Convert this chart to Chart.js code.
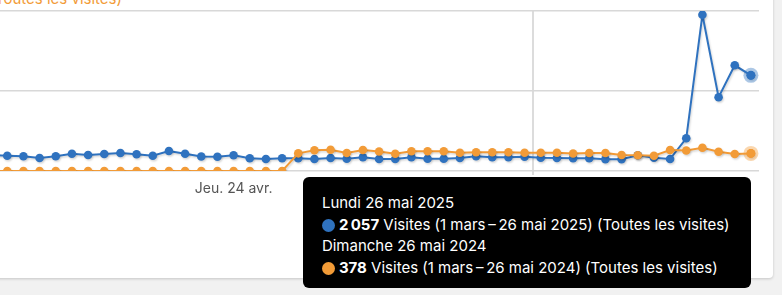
<!DOCTYPE html>
<html lang="fr">
<head>
<meta charset="utf-8">
<script src="https://cdn.jsdelivr.net/npm/chart.js@4.4.1/dist/chart.umd.min.js"></script>
<style>
  html, body { margin:0; padding:0; width:782px; height:295px; overflow:hidden; background:#f1f1f1; font-family: Inter, "Noto Sans", sans-serif; }
  #card { position:absolute; left:-20px; top:-20px; width:793px; height:298px; background:#fff; border-radius:4px; box-shadow:0 1px 3px rgba(0,0,0,.18); }
  #legend { position:absolute; right:660px; top:-10px; white-space:nowrap; font-size:15px; line-height:18px; color:#f29b37; }
  #wrap { position:absolute; left:-17px; top:0; width:776px; height:231px; }
  #tip { position:absolute; background:#000; color:#fff; border-radius:6px; font-size:15px; line-height:21.5px;
         padding:15px 21px 10px 19px; white-space:nowrap; opacity:0; pointer-events:none; }
  #tip .dot { display:inline-block; width:13px; height:13px; border-radius:50%; vertical-align:-2px; margin-right:4px; }
  #tip b { font-weight:700; }
</style>
</head>
<body>
<div id="card"></div>
<div id="legend">Visites (1 mars&#8201;–&#8201;26 mai 2024) (Toutes les visites)</div>
<div id="wrap"><canvas id="c"></canvas></div>
<div id="tip"></div>
<script>
// ---- data ----
const categories = [
  '2025-04-09','2025-04-10','2025-04-11','2025-04-12','2025-04-13','2025-04-14','2025-04-15','2025-04-16',
  '2025-04-17','2025-04-18','2025-04-19','2025-04-20','2025-04-21','2025-04-22','2025-04-23','2025-04-24',
  '2025-04-25','2025-04-26','2025-04-27','2025-04-28','2025-04-29','2025-04-30','2025-05-01','2025-05-02',
  '2025-05-03','2025-05-04','2025-05-05','2025-05-06','2025-05-07','2025-05-08','2025-05-09','2025-05-10',
  '2025-05-11','2025-05-12','2025-05-13','2025-05-14','2025-05-15','2025-05-16','2025-05-17','2025-05-18',
  '2025-05-19','2025-05-20','2025-05-21','2025-05-22','2025-05-23','2025-05-24','2025-05-25','2025-05-26'
];
const visits2025 = [
  344, 329, 316, 280, 316, 372, 344, 366, 387, 359, 329, 430, 372, 312, 307, 338,
  273, 258, 273, 273, 258, 280, 264, 295, 258, 258, 295, 264, 264, 280, 316, 295,
  295, 307, 286, 280, 273, 273, 252, 252, 338, 286, 258, 703, 3360, 1585, 2273, 2057
];
const visits2024 = [
  0, 0, 0, 0, 0, 0, 0, 0, 0, 0, 0, 0, 0, 0, 0, 0,
  0, 0, 0, 380, 445, 458, 387, 452, 419, 370, 424, 426, 426, 393, 404, 402,
  402, 393, 391, 393, 376, 387, 387, 344, 338, 329, 452, 441, 501, 415, 366, 378
];
const seriesNames = [
  'Visites (1 mars\u2009–\u200926 mai 2025) (Toutes les visites)',
  'Visites (1 mars\u2009–\u200926 mai 2024) (Toutes les visites)'
];
const seriesYears = ['2025', '2024'];
const tickDates = ['2025-04-24'];
const tickLabels = ['Jeu. 24 avr.'];
const markerDates = ['2025-05-13'];
const yTicks = [0, 1720, 3440];

const BLUE = '#2f72bf', ORANGE = '#f29b37';
const dayNames = ['Dimanche','Lundi','Mardi','Mercredi','Jeudi','Vendredi','Samedi'];
const monthNames = ['janvier','février','mars','avril','mai','juin','juillet','août','septembre','octobre','novembre','décembre'];

function fullDate(iso, year) {
  const [y, m, d] = iso.split('-').map(Number);
  const yy = Number(year || y);
  const dt = new Date(yy, m - 1, d);
  return dayNames[dt.getDay()] + ' ' + d + ' ' + monthNames[m - 1] + ' ' + yy;
}
function fmt(n) { return String(n).replace(/\B(?=(\d{3})+(?!\d))/g, '\u202F'); }

const markerIdx = markerDates.map(d => categories.indexOf(d));

const fxPlugin = {
  id: 'fx',
  beforeDatasetDraw(chart) {
    const ctx = chart.ctx;
    ctx.save();
    ctx.shadowColor = 'rgba(0,0,0,0.16)';
    ctx.shadowOffsetX = 1;
    ctx.shadowOffsetY = 1.5;
    ctx.shadowBlur = 2;
  },
  afterDatasetDraw(chart, args) {
    const ctx = chart.ctx;
    ctx.restore();
    const color = chart.data.datasets[args.index].borderColor;
    chart.getActiveElements().forEach(a => {
      if (a.datasetIndex !== args.index) return;
      const el = a.element;
      ctx.save();
      ctx.globalAlpha = 0.4;
      ctx.fillStyle = color;
      ctx.beginPath(); ctx.arc(el.x, el.y, 7.5, 0, Math.PI * 2); ctx.fill();
      ctx.globalAlpha = 1;
      ctx.beginPath(); ctx.arc(el.x, el.y, 4.5, 0, Math.PI * 2); ctx.fill();
      ctx.restore();
    });
  }
};

function externalTip(context) {
  const { chart, tooltip } = context;
  const el = document.getElementById('tip');
  if (tooltip.opacity === 0) { el.style.opacity = 0; return; }
  const pts = tooltip.dataPoints.slice().sort((a, b) => a.datasetIndex - b.datasetIndex);
  el.innerHTML = pts.map(p => {
    const ds = chart.data.datasets[p.datasetIndex];
    return '<div>' + fullDate(categories[p.dataIndex], seriesYears[p.datasetIndex]) + '</div>' +
      '<div><span class="dot" style="background:' + ds.borderColor + '"></span><b>' + fmt(p.raw) + '</b> ' +
      seriesNames[p.datasetIndex] + '</div>';
  }).join('');
  el.style.opacity = 1;
  const wrap = chart.canvas.parentNode;
  el.style.left = (wrap.offsetLeft + tooltip.caretX - el.offsetWidth) + 'px';
  el.style.top = (wrap.offsetTop + chart.chartArea.bottom + 6) + 'px';
}

const chart = new Chart(document.getElementById('c'), {
  type: 'line',
  data: {
    labels: categories,
    datasets: [
      { label: seriesNames[0], data: visits2025, borderColor: BLUE, backgroundColor: BLUE, order: 1,
        pointBackgroundColor: BLUE, pointHoverBackgroundColor: BLUE },
      { label: seriesNames[1], data: visits2024, borderColor: ORANGE, backgroundColor: ORANGE, order: 0,
        pointBackgroundColor: ORANGE, pointHoverBackgroundColor: ORANGE }
    ]
  },
  options: {
    responsive: true,
    maintainAspectRatio: false,
    animation: false,
    events: [],
    layout: { autoPadding: false, padding: { top: 11, left: 0, right: 0, bottom: 0 } },
    elements: {
      line: { borderWidth: 2, tension: 0 },
      point: { radius: 4.3, borderWidth: 0, hoverRadius: 4.3, hoverBorderWidth: 0 }
    },
    interaction: { mode: 'index', intersect: false },
    plugins: {
      legend: { display: false },
      tooltip: { enabled: false, external: externalTip, mode: 'index', intersect: false }
    },
    scales: {
      x: {
        type: 'category',
        offset: true,
        border: { display: false },
        grid: {
          offset: true,
          drawTicks: true,
          tickLength: 4,
          lineWidth: 2,
          color: (ctx) => markerIdx.includes(ctx.index) ? '#dcdcdc' : 'rgba(0,0,0,0)'
        },
        ticks: {
          autoSkip: false,
          maxRotation: 0,
          padding: 5,
          color: '#555',
          font: { family: 'Inter, "Noto Sans", sans-serif', size: 14 },
          callback: (v, i) => {
            const k = tickDates.indexOf(categories[i]);
            return k >= 0 ? tickLabels[k] : '';
          }
        },
        afterFit: (s) => { s.height = 60; s.paddingLeft = 0; s.paddingRight = 0; }
      },
      y: {
        min: yTicks[0],
        max: yTicks[yTicks.length - 1],
        afterBuildTicks: (s) => { s.ticks = yTicks.map(v => ({ value: v })); },
        border: { display: false },
        grid: { color: '#d8d8d8', lineWidth: 1.5, drawTicks: false },
        ticks: { display: false },
        afterFit: (s) => { s.width = 0; s.paddingTop = 0; s.paddingBottom = 0; }
      }
    }
  },
  plugins: [fxPlugin]
});

const last = categories.length - 1;
const active = [{ datasetIndex: 0, index: last }, { datasetIndex: 1, index: last }];
chart.setActiveElements(active);
chart.tooltip.setActiveElements(active, { x: 0, y: 0 });
chart.update('none');
</script>
</body>
</html>
